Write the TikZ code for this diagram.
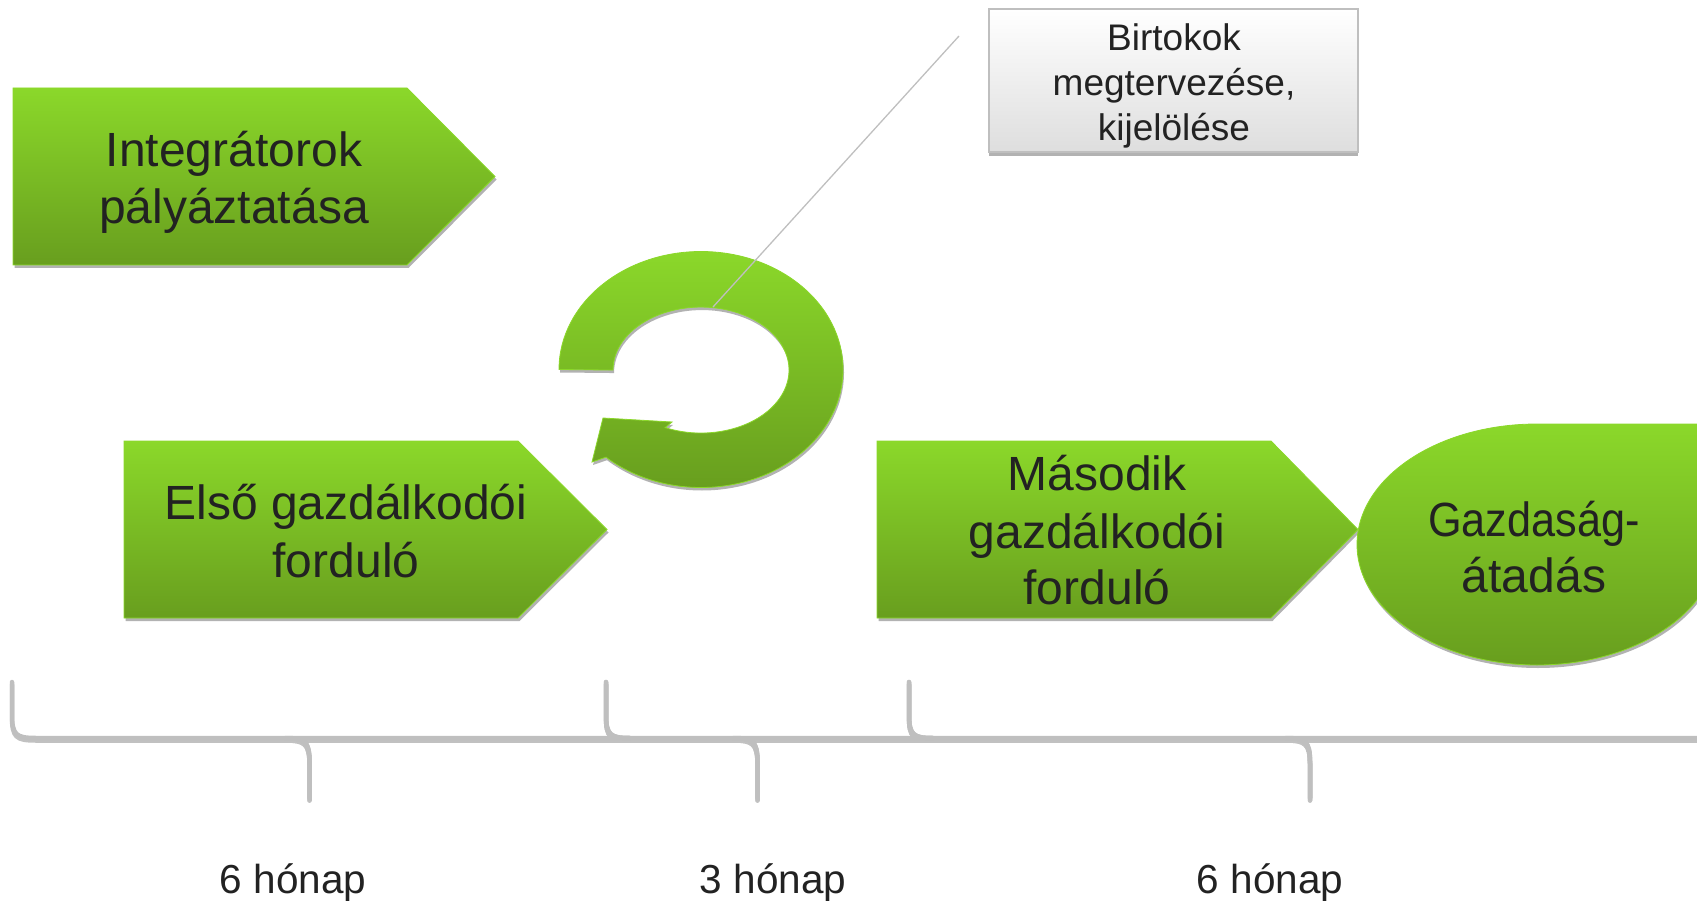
\documentclass[tikz,border=0pt]{standalone}
\usepackage{fontspec}
\setmainfont{Liberation Sans}
\definecolor{gtop}{RGB}{139,216,42}
\definecolor{gbot}{RGB}{104,158,30}
\definecolor{shadowgray}{RGB}{178,178,178}
\definecolor{txt}{RGB}{34,34,34}
\definecolor{bracegray}{RGB}{191,191,191}
\tikzset{
  greenfill/.style={top color=gtop, bottom color=gbot, draw=gtop, line width=0.8pt},
  shadowfill/.style={fill=shadowgray},
  bigtxt/.style={text=txt, font=\fontsize{48}{57}\selectfont, inner sep=0pt, anchor=base},
  calltxt/.style={text=txt, font=\fontsize{37}{44}\selectfont, inner sep=0pt, anchor=base},
  lbltxt/.style={text=txt, font=\fontsize{40.5}{46}\selectfont, inner sep=0pt, anchor=base},
  bracestroke/.style={draw=bracegray, line width=4.5pt, line cap=round, line join=round},
  braceshadow/.style={draw=shadowgray!80, line width=4.5pt, line cap=round, line join=round},
  callbox/.style={rectangle, draw=bracegray, line width=1.2pt, top color=white, bottom color={black!13},
    minimum width=369pt, minimum height=143pt, inner sep=0pt},
  leader/.style={draw=bracegray, line width=1.3pt},
}
\newcommand\mypent[5]{% left top bottom shoulder tip
  \begin{scope}[shift={(1.5,3)}]
    \fill[shadowfill] (#1,#2) -- (#4,#2) -- (#5,{(#2+#3)/2}) -- (#4,#3) -- (#1,#3) -- cycle;
  \end{scope}
  \path[greenfill] (#1,#2) -- (#4,#2) -- (#5,{(#2+#3)/2}) -- (#4,#3) -- (#1,#3) -- cycle;
}
\newcommand\mybrace[3]{% left tip right
  \path[#3] (#1,682) -- (#1,714) .. controls (#1,735) and ({#1+4},738) .. ({#1+24},738)
     -- ({#2-24},738) .. controls ({#2-5},738) and (#2,741) .. (#2,762) -- (#2,798);
}
\newcommand\teardroppath{(1357,544.5) arc[start angle=180, end angle=270, x radius=180, y radius=120.5]
  -- (1717,424) -- (1717,544.5)
  arc[start angle=0, end angle=180, x radius=180, y radius=120.5] -- cycle}
\begin{document}
\begin{tikzpicture}[x=1pt,y=-1pt]
\useasboundingbox (0,0) rectangle (1697,901);
\clip (0,0) rectangle (1697,901);

% callout box
\fill[shadowfill] (989,152) rectangle (1358,156);
\node[callbox] (callout) at (1173.5,80.5) {};
\node[calltxt] (c1) at (1174,51) {Birtokok};
\node[calltxt] (c2) at (1174,96) {megtervezése,};
\node[calltxt] (c3) at (1174,141) {kijelölése};

% first pentagon
\mypent{13}{88}{265}{407}{495}
\node[bigtxt] (t1a) at (234,167) {Integrátorok};
\node[bigtxt] (t1b) at (234,224) {pályáztatása};

% circular arrow
\begin{scope}[shift={(1,3)}]
\fill[shadowfill] (559,369.5) arc[start angle=180, end angle=492, x radius=142, y radius=118]
  -- (592,462) -- (603,418) -- (672,422) -- (665.2,427.6)
  arc[start angle=474, end angle=180, x radius=88, y radius=63] -- cycle;
\end{scope}
\path[greenfill] (559,369.5) arc[start angle=180, end angle=492, x radius=142, y radius=118]
  -- (592,462) -- (603,418) -- (672,422) -- (665.2,427.6)
  arc[start angle=474, end angle=180, x radius=88, y radius=63] -- cycle;
\coordinate (leadstart) at (959,36);
\coordinate (ringtop) at (713,307);
\draw[leader] (leadstart) -- (ringtop);

% second and third pentagons
\mypent{124}{441}{618}{518}{607}
\node[bigtxt] (t2a) at (346,519) {Első gazdálkodói};
\node[bigtxt] (t2b) at (346,577) {forduló};

\mypent{877}{441}{618}{1271}{1358}
\node[bigtxt] (t3a) at (1097,490) {Második};
\node[bigtxt] (t3b) at (1097,548) {gazdálkodói};
\node[bigtxt] (t3c) at (1097,604) {forduló};

% teardrop
\begin{scope}[shift={(1,3)}]
\fill[shadowfill] \teardroppath;
\end{scope}
\path[greenfill] \teardroppath;
\node[bigtxt, xscale=0.9] (t4a) at (1534,536) {Gazdaság-};
\node[bigtxt] (t4b) at (1534,592) {átadás};

% braces
\begin{scope}[shift={(0,2.5)}]
\mybrace{12}{309.5}{braceshadow}
\mybrace{606}{309.5}{braceshadow}
\mybrace{606}{757.5}{braceshadow}
\mybrace{909}{757.5}{braceshadow}
\mybrace{909}{1310}{braceshadow}
\mybrace{1711}{1310}{braceshadow}
\end{scope}
\mybrace{12}{309.5}{bracestroke}
\mybrace{606}{309.5}{bracestroke}
\mybrace{606}{757.5}{bracestroke}
\mybrace{909}{757.5}{bracestroke}
\mybrace{909}{1310}{bracestroke}
\mybrace{1711}{1310}{bracestroke}

% labels
\node[lbltxt] (l1) at (293,893) {6 hónap};
\node[lbltxt] (l2) at (773,893) {3 hónap};
\node[lbltxt] (l3) at (1270,893) {6 hónap};
\end{tikzpicture}
\end{document}
